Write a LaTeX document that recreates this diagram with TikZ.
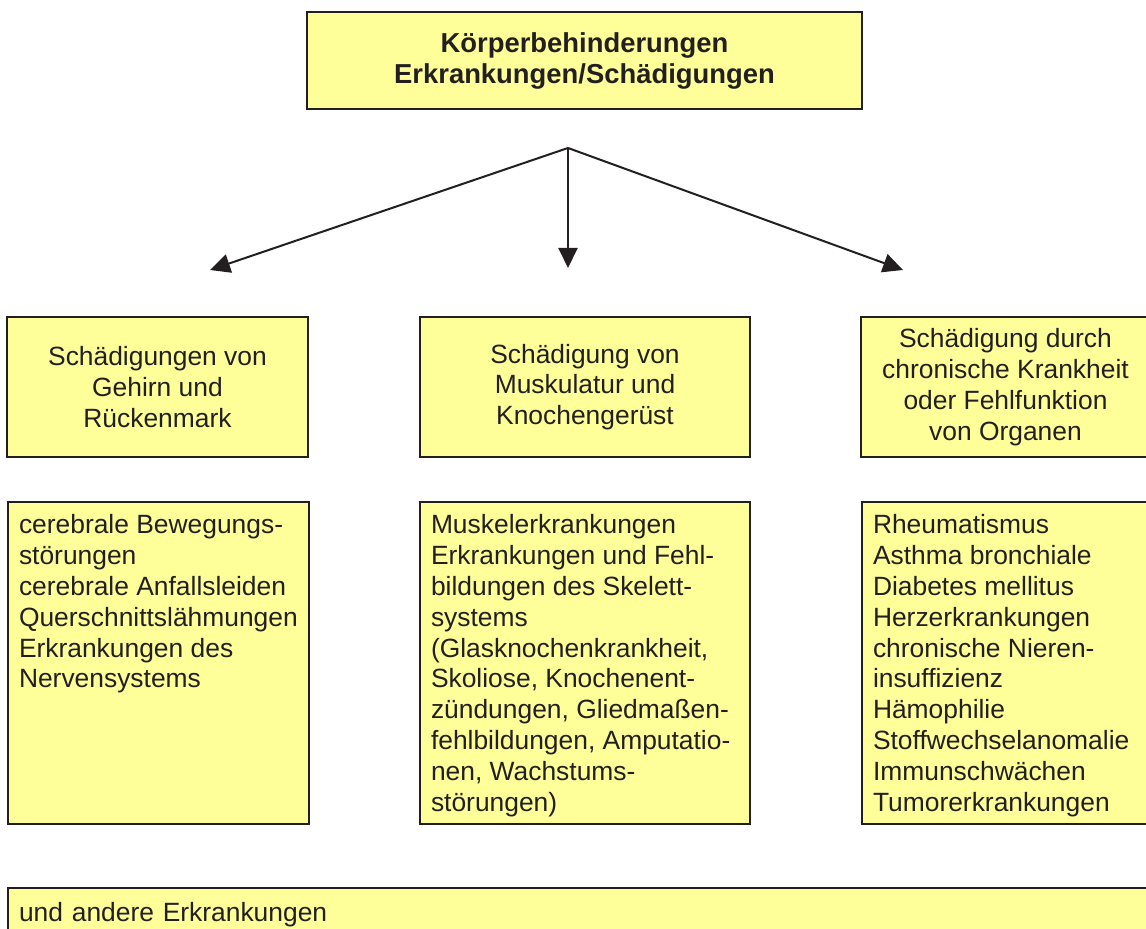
\documentclass[tikz,border=0pt]{standalone}
\usepackage{fontspec}
\setmainfont{Liberation Sans}
\usetikzlibrary{arrows.meta}
\definecolor{boxyellow}{HTML}{FFFF99}
\definecolor{ink}{HTML}{231F20}

\begin{document}
\begin{tikzpicture}[x=0.5pt, y=-0.5pt, line width=1pt, draw=ink, text=ink,
  >={Triangle[length=10pt, width=9.5pt]},
  box/.style={draw=ink, fill=boxyellow, font=\fontsize{13.2}{15.4}\selectfont},
  head node/.style={box, minimum width=277.5pt, minimum height=48.5pt, align=center, font=\bfseries\fontsize{13.7}{15.5}\selectfont},
  group node/.style={box, minimum height=70pt, align=center},
  list node/.style={box, anchor=north west, inner xsep=5.5pt, inner ysep=5.2pt}]
			\useasboundingbox (0,0) rectangle (1146,929);

			\node[head node] (K) at (584.5,60.5) {K\"orperbehinderungen\\Erkrankungen/Sch\"adigungen};
			\coordinate (F) at (568,148);
			\coordinate (GA) at (210,270);
			\coordinate (MA) at (568,268);
			\coordinate (OA) at (903,270);

			\node[group node, minimum width=150.5pt] (G) at (157.5,387) {Sch\"adigungen von\\Gehirn und\\R\"uckenmark};
			\node[group node, minimum width=165pt] (M) at (585,387) {Sch\"adigung von\\Muskulatur und\\Knochenger\"ust};
			\node[group node, minimum width=144.5pt] (O) at (1005.5,387) {Sch\"adigung durch\\chronische Krankheit\\oder Fehlfunktion\\von Organen};

			\node[list node] (GL) at (7,501) {\parbox[t][150.6pt][t]{139.5pt}{\begin{tabular}[t]{@{}l@{}}cerebrale Bewegungs-\\st\"orungen\\cerebrale Anfallsleiden\\Querschnittsl\"ahmungen\\Erkrankungen des\\Nervensystems\end{tabular}}};
			\node[list node] (ML) at (419,501) {\parbox[t][150.6pt][t]{154pt}{\begin{tabular}[t]{@{}l@{}}Muskelerkrankungen\\Erkrankungen und Fehl-\\bildungen des Skelett-\\systems\\(Glasknochenkrankheit,\\Skoliose, Knochenent-\\z\"undungen, Gliedma\ss en-\\fehlbildungen, Amputatio-\\nen, Wachstums-\\st\"orungen)\end{tabular}}};
			\node[list node] (OL) at (861,501) {\parbox[t][150.6pt][t]{145pt}{\begin{tabular}[t]{@{}l@{}}Rheumatismus\\Asthma bronchiale\\Diabetes mellitus\\Herzerkrankungen\\chronische Nieren-\\insuffizienz\\H\"amophilie\\Stoffwechselanomalie\\Immunschw\"achen\\Tumorerkrankungen\end{tabular}}};

			\node[box, anchor=north west, text width=560.5pt, minimum height=26.5pt, inner xsep=5.5pt, align=left] (U) at (7,887) {und andere Erkrankungen};

			\path[->]
				(F) edge (GA)
				(F) edge (MA)
				(F) edge (OA)
			;
		\end{tikzpicture}
\end{document}
